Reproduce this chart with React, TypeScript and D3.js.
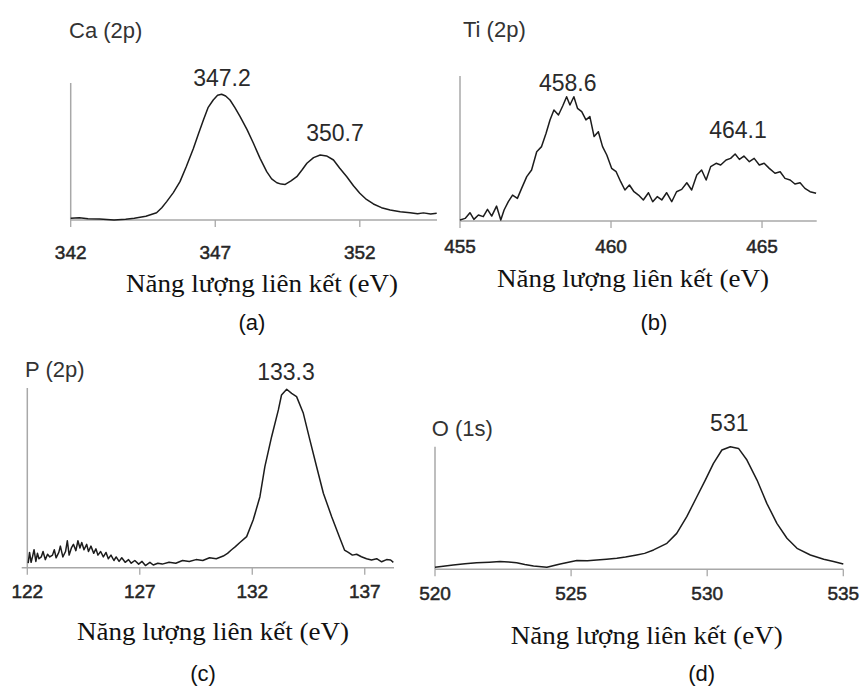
import React from 'react';
import * as d3 from 'd3';

// binding energy (eV) and relative intensity
const caEnergy = [342, 342.3, 342.6, 343, 343.5, 343.9, 344.2, 344.6, 344.97, 345.15, 345.32, 345.55, 345.78, 346.0, 346.24, 346.42, 346.59, 346.75, 346.93, 347.08, 347.22, 347.36, 347.51, 347.68, 347.86, 348.1, 348.32, 348.55, 348.78, 348.95, 349.13, 349.28, 349.42, 349.62, 349.82, 350.0, 350.17, 350.4, 350.63, 350.85, 351.09, 351.3, 351.55, 351.78, 352.0, 352.23, 352.47, 352.75, 353.05, 353.4, 353.74, 354.0, 354.2, 354.45, 354.66];
const caIntensity = [0.012, 0.016, 0.01, 0.008, 0.0, 0.006, 0.012, 0.028, 0.053, 0.09, 0.134, 0.2, 0.28, 0.39, 0.52, 0.63, 0.73, 0.82, 0.876, 0.91, 0.918, 0.905, 0.876, 0.82, 0.754, 0.66, 0.56, 0.45, 0.353, 0.3, 0.272, 0.262, 0.26, 0.285, 0.316, 0.365, 0.414, 0.455, 0.474, 0.468, 0.438, 0.38, 0.316, 0.25, 0.195, 0.15, 0.117, 0.09, 0.073, 0.06, 0.053, 0.045, 0.052, 0.044, 0.049];

const tiEnergy = [455.0, 455.17, 455.33, 455.46, 455.61, 455.77, 455.91, 456.05, 456.21, 456.35, 456.46, 456.6, 456.74, 456.9, 457.04, 457.21, 457.37, 457.54, 457.7, 457.85, 457.98, 458.11, 458.26, 458.4, 458.53, 458.64, 458.77, 458.89, 459.03, 459.17, 459.3, 459.44, 459.58, 459.72, 459.86, 460.02, 460.17, 460.32, 460.46, 460.61, 460.76, 460.91, 461.07, 461.24, 461.38, 461.53, 461.68, 461.84, 462.01, 462.17, 462.34, 462.51, 462.67, 462.84, 463.0, 463.15, 463.3, 463.48, 463.63, 463.81, 463.96, 464.11, 464.25, 464.4, 464.58, 464.74, 464.91, 465.07, 465.24, 465.43, 465.6, 465.76, 465.93, 466.09, 466.26, 466.42, 466.59, 466.79];
const tiIntensity = [0.007, 0.018, 0.057, 0.011, 0.041, 0.03, 0.08, 0.034, 0.103, 0.007, 0.076, 0.133, 0.179, 0.156, 0.225, 0.306, 0.352, 0.478, 0.513, 0.605, 0.697, 0.766, 0.731, 0.793, 0.857, 0.8, 0.857, 0.777, 0.754, 0.697, 0.72, 0.582, 0.616, 0.513, 0.455, 0.363, 0.34, 0.271, 0.214, 0.248, 0.202, 0.179, 0.145, 0.195, 0.133, 0.168, 0.145, 0.195, 0.133, 0.202, 0.218, 0.264, 0.214, 0.317, 0.352, 0.283, 0.375, 0.398, 0.386, 0.421, 0.432, 0.462, 0.425, 0.448, 0.409, 0.432, 0.386, 0.398, 0.363, 0.329, 0.34, 0.294, 0.283, 0.255, 0.264, 0.225, 0.202, 0.191];

const pEnergy = [122.04, 122.1, 122.17, 122.23, 122.3, 122.38, 122.45, 122.52, 122.62, 122.7, 122.8, 122.9, 123.0, 123.12, 123.2, 123.28, 123.4, 123.47, 123.58, 123.7, 123.78, 123.86, 123.96, 124.05, 124.16, 124.25, 124.34, 124.42, 124.52, 124.64, 124.72, 124.83, 124.95, 125.05, 125.14, 125.26, 125.38, 125.5, 125.6, 125.72, 125.85, 125.95, 126.08, 126.2, 126.35, 126.5, 126.62, 126.78, 126.95, 127.1, 127.25, 127.45, 127.6, 127.8, 128.0, 128.3, 128.6, 128.9, 129.2, 129.5, 129.8, 130.1, 130.4, 130.71, 130.9, 131.08, 131.25, 131.45, 131.75, 132.04, 132.34, 132.56, 132.86, 133.16, 133.3, 133.53, 133.75, 133.97, 134.27, 134.56, 134.86, 135.16, 135.53, 135.9, 136.1, 136.27, 136.45, 136.64, 136.85, 137.08, 137.3, 137.53, 137.75, 137.97, 138.15, 138.27];
const pIntensity = [0.025, 0.085, 0.03, 0.06, 0.1, 0.035, 0.08, 0.05, 0.06, 0.09, 0.045, 0.075, 0.06, 0.07, 0.1, 0.055, 0.085, 0.12, 0.06, 0.09, 0.15, 0.07, 0.11, 0.13, 0.095, 0.15, 0.11, 0.14, 0.1, 0.13, 0.09, 0.12, 0.08, 0.105, 0.07, 0.09, 0.06, 0.085, 0.05, 0.07, 0.04, 0.06, 0.035, 0.055, 0.03, 0.045, 0.025, 0.04, 0.02, 0.035, 0.012, 0.03, 0.015, 0.025, 0.02, 0.03, 0.025, 0.04, 0.035, 0.045, 0.04, 0.055, 0.05, 0.065, 0.08, 0.1, 0.117, 0.14, 0.173, 0.265, 0.395, 0.562, 0.729, 0.878, 0.961, 0.993, 0.97, 0.952, 0.859, 0.711, 0.562, 0.414, 0.284, 0.163, 0.098, 0.085, 0.07, 0.075, 0.061, 0.05, 0.043, 0.05, 0.033, 0.045, 0.043, 0.03, 0.07];

const oEnergy = [520.0, 520.3, 520.67, 521.1, 521.53, 522.0, 522.39, 522.7, 523.0, 523.3, 523.62, 524.11, 524.6, 525.21, 525.6, 525.94, 526.3, 526.68, 527.0, 527.41, 527.7, 528.03, 528.52, 528.88, 529.25, 529.62, 529.93, 530.23, 530.54, 530.85, 531.15, 531.46, 531.83, 532.19, 532.56, 532.93, 533.3, 533.79, 534.28, 534.64, 535.0];
const oIntensity = [0.016, 0.025, 0.035, 0.045, 0.054, 0.058, 0.063, 0.06, 0.054, 0.04, 0.027, 0.016, 0.043, 0.071, 0.07, 0.076, 0.082, 0.09, 0.1, 0.117, 0.13, 0.158, 0.212, 0.293, 0.429, 0.592, 0.728, 0.864, 0.973, 1.0, 0.986, 0.891, 0.728, 0.538, 0.375, 0.253, 0.171, 0.117, 0.082, 0.063, 0.043];

const caTicks = [342, 347, 352];
const tiTicks = [455, 460, 465];
const pTicks = [122, 127, 132, 137];
const oTicks = [520, 525, 530, 535];

const caPeaks = ['347.2', '350.7'];
const tiPeaks = ['458.6', '464.1'];
const pPeaks = ['133.3'];
const oPeaks = ['531'];

const axisTitle = 'Năng lượng liên kết (eV)';

type PanelProps = {
  energy: number[];
  intensity: number[];
  domain: [number, number];
  xRange: [number, number];
  yRange: [number, number];
  axisStart?: number;
  ticks: number[];
  tickY: number;
  title: string;
  titlePos: [number, number];
  peaks: string[];
  peakPos: [number, number][];
  labelPos: [number, number];
  letter: string;
  letterPos: [number, number];
};

function Panel(p: PanelProps) {
  const x = d3.scaleLinear().domain(p.domain).range(p.xRange);
  const y = d3.scaleLinear().domain([0, 1]).range(p.yRange);
  const pts = p.energy.map((e, i) => [e, p.intensity[i]] as [number, number]);
  const line = d3.line<[number, number]>().x(d => x(d[0])).y(d => y(d[1]));
  const base = p.yRange[0];
  const axisColor = '#a8a8a8';
  const sans = "'Liberation Sans', Arial, sans-serif";

  return (
    <g>
      <line x1={p.xRange[0]} x2={p.xRange[0]} y1={base} y2={p.yRange[1]} stroke={axisColor} strokeWidth={1.5} />
      <line x1={p.axisStart ?? p.xRange[0]} x2={p.xRange[1]} y1={base} y2={base} stroke={axisColor} strokeWidth={1.5} />
      {p.ticks.map(t => (
        <g key={t}>
          <line x1={x(t)} x2={x(t)} y1={base} y2={base + 7} stroke={axisColor} strokeWidth={1.3} />
          <text x={x(t)} y={p.tickY} textAnchor="middle" dominantBaseline="central"
            fontFamily={sans} fontSize={19} fill="#262626" stroke="#262626" strokeWidth={0.5}>{t}</text>
        </g>
      ))}
      <path d={line(pts) ?? ''} fill="none" stroke="#1c1c1c" strokeWidth={1.5} strokeLinejoin="round" />
      <text x={p.titlePos[0]} y={p.titlePos[1]} dominantBaseline="central"
        fontFamily={sans} fontSize={22} fill="#333">{p.title}</text>
      {p.peaks.map((s, i) => (
        <text key={s} x={p.peakPos[i][0]} y={p.peakPos[i][1]} textAnchor="middle" dominantBaseline="central"
          fontFamily={sans} fontSize={23} fill="#2a2a2a">{s}</text>
      ))}
      <text x={p.labelPos[0]} y={p.labelPos[1]} textAnchor="middle" dominantBaseline="central"
        fontFamily="'Liberation Serif', 'Times New Roman', serif" fontSize={25}
        textLength={272} lengthAdjust="spacingAndGlyphs" fill="#111">{axisTitle}</text>
      <text x={p.letterPos[0]} y={p.letterPos[1]} textAnchor="middle" dominantBaseline="central"
        fontFamily={sans} fontSize={22} fill="#111">{p.letter}</text>
    </g>
  );
}

export default function App() {
  return (
    <svg width={862} height={689} style={{ position: 'absolute', left: 0, top: 0, background: '#fff' }}>
      <Panel energy={caEnergy} intensity={caIntensity} domain={[342, 354.67]} xRange={[70.7, 437]} yRange={[220, 83]}
        ticks={caTicks} tickY={252} title="Ca (2p)" titlePos={[69, 30]} peaks={caPeaks}
        peakPos={[[222, 78], [335, 133]]} labelPos={[262, 283]} letter="(a)" letterPos={[252, 322]} />
      <Panel energy={tiEnergy} intensity={tiIntensity} domain={[455, 466.81]} xRange={[460, 816.7]} yRange={[221, 76]}
        ticks={tiTicks} tickY={246} title="Ti (2p)" titlePos={[463, 29]} peaks={tiPeaks}
        peakPos={[[567.7, 83], [738, 130]]} labelPos={[633, 278]} letter="(b)" letterPos={[654, 322]} />
      <Panel energy={pEnergy} intensity={pIntensity} domain={[122, 138.3]} xRange={[27.3, 394]} yRange={[567.7, 388]}
        axisStart={21.7} ticks={pTicks} tickY={591.7} title="P (2p)" titlePos={[25, 369]} peaks={pPeaks}
        peakPos={[[286, 371.7]]} labelPos={[213, 631.7]} letter="(c)" letterPos={[203, 673]} />
      <Panel energy={oEnergy} intensity={oIntensity} domain={[520, 535]} xRange={[435, 843.3]} yRange={[569.3, 446.7]}
        ticks={oTicks} tickY={593.3} title="O (1s)" titlePos={[431.7, 428]} peaks={oPeaks}
        peakPos={[[729.3, 423.3]]} labelPos={[646.7, 635]} letter="(d)" letterPos={[701.7, 673]} />
    </svg>
  );
}
